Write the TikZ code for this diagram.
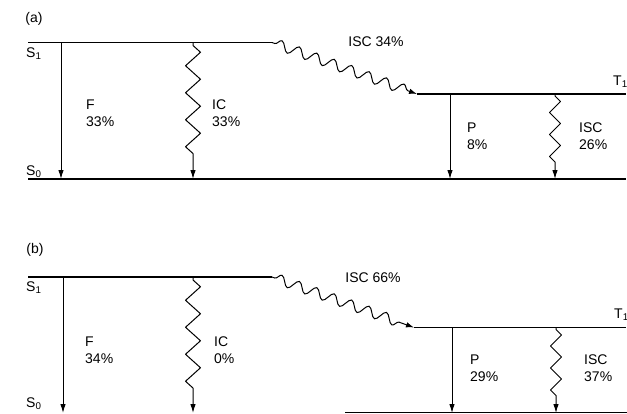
\documentclass[tikz,border=0pt]{standalone}
\usepackage{fontspec}
\setmainfont{Liberation Sans}
\usetikzlibrary{arrows.meta,decorations.pathmorphing}
\begin{document}
\begin{tikzpicture}[x=1pt,y=-1pt,
  level/.style={line width=1.6pt},
  rad/.style={line width=1pt,-{Latex[length=9pt,width=5.5pt]}},
  wavyv/.style={line width=1pt,line join=round,-{Latex[length=9pt,width=5.5pt]},decorate,
    decoration={zigzag,amplitude=7.5pt,segment length=27pt,pre length=3pt,post length=22pt}},
  wavyt/.style={line width=1pt,line join=round,-{Latex[length=9pt,width=5.5pt]},decorate,
    decoration={zigzag,amplitude=5.5pt,segment length=22pt,pre length=2pt,post length=14pt}},
  wavyd/.style={line width=1pt,-{Latex[length=8pt,width=5.5pt]},decorate,
    decoration={snake,amplitude=5pt,segment length=18.5pt,pre length=3pt,post length=7pt}},
  lbl/.style={font=\fontsize{14}{17}\selectfont, align=left, anchor=west, inner sep=0pt},
  tag/.style={font=\fontsize{14}{17}\selectfont, inner sep=0pt}
]
\useasboundingbox (0,0) rectangle (627,413);

% ================= panel (a) =================
\node[tag] (alab) at (34,19) {(a)};
\coordinate (aS1l) at (28,42.5);
\coordinate (aS1r) at (272,42.5);
\coordinate (aT1l) at (417,94);
\coordinate (aT1r) at (626,94);
\coordinate (aS0l) at (28,179);
\coordinate (aS0r) at (626,179);
\draw[level] (aS1l) -- (aS1r);
\draw[level] (aT1l) -- (aT1r);
\draw[level] (aS0l) -- (aS0r);
\node[lbl] (aS1t) at (26,54) {S\textsubscript{1}};
\node[lbl] (aS0t) at (26,172) {S\textsubscript{0}};
\node[lbl] (aT1t) at (613,82) {T\textsubscript{1}};

\coordinate (aF1) at (61,42.5);  \coordinate (aF0) at (61,179);
\coordinate (aIC1) at (193,42.5); \coordinate (aIC0) at (193,179);
\coordinate (aP1) at (450,94);   \coordinate (aP0) at (450,179);
\coordinate (aI1) at (555,94);   \coordinate (aI0) at (555,179);
\draw[rad] (aF1) -- (aF0);
\draw[wavyv] (aIC1) -- (aIC0);
\draw[rad] (aP1) -- (aP0);
\draw[wavyt] (aI1) -- (aI0);
\draw[wavyd] (aS1r) -- (aT1l);

\node[lbl] (aFt) at (86,113) {F\\33\%};
\node[lbl] (aICt) at (212,113) {IC\\33\%};
\node[tag] (aISCt) at (376,42) {ISC 34\%};
\node[lbl] (aPt) at (467,136) {P\\8\%};
\node[lbl] (aIt) at (579,136) {ISC\\26\%};

% ================= panel (b) =================
\node[tag] (blab) at (35,250) {(b)};
\coordinate (bS1l) at (28,277);
\coordinate (bS1r) at (272,277);
\coordinate (bT1l) at (414,327.5);
\coordinate (bT1r) at (626,327.5);
\coordinate (bS0l) at (345,412.5);
\coordinate (bS0r) at (627,412.5);
\draw[level] (bS1l) -- (bS1r);
\draw[level] (bT1l) -- (bT1r);
\draw[level] (bS0l) -- (bS0r);
\node[lbl] (bS1t) at (26,288) {S\textsubscript{1}};
\node[lbl] (bS0t) at (26,404) {S\textsubscript{0}};
\node[lbl] (bT1t) at (614,315) {T\textsubscript{1}};

\coordinate (bF1) at (63,277);   \coordinate (bF0) at (63,413);
\coordinate (bIC1) at (193,277); \coordinate (bIC0) at (193,413);
\coordinate (bP1) at (452,327.5); \coordinate (bP0) at (452,413);
\coordinate (bI1) at (556,327.5); \coordinate (bI0) at (556,413);
\draw[rad] (bF1) -- (bF0);
\draw[wavyv] (bIC1) -- (bIC0);
\draw[rad] (bP1) -- (bP0);
\draw[wavyt] (bI1) -- (bI0);
\draw[wavyd] (bS1r) -- (bT1l);

\node[lbl] (bFt) at (85,350) {F\\34\%};
\node[lbl] (bICt) at (214,350) {IC\\0\%};
\node[tag] (bISCt) at (373,278) {ISC 66\%};
\node[lbl] (bPt) at (470,368) {P\\29\%};
\node[lbl] (bIt) at (584,368) {ISC\\37\%};
\end{tikzpicture}
\end{document}
